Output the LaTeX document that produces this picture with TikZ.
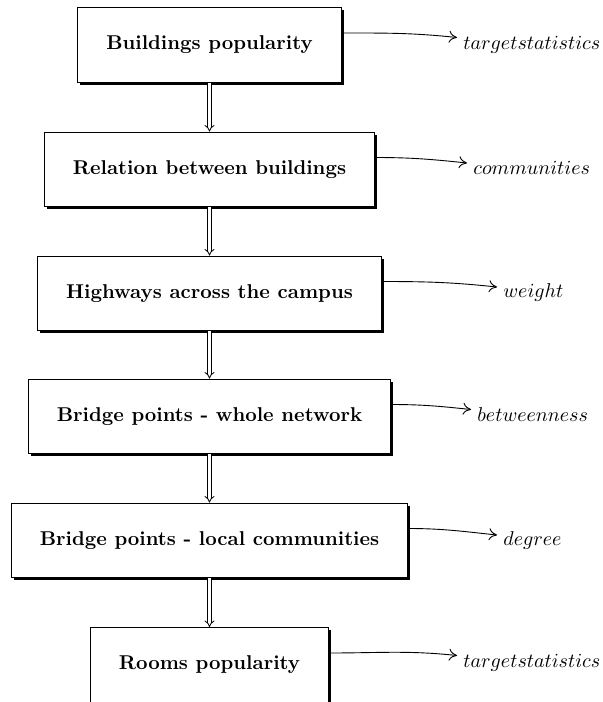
\documentclass[tikz,border=0pt]{standalone}
\usetikzlibrary{shadows,arrows.meta}
\begin{document}
\begin{tikzpicture}[x=0.5pt,y=-0.5pt,
  box/.style={draw, line width=0.5pt, fill=white, inner sep=0.5cm, font=\bfseries,
    general shadow={fill=black, shadow xshift=1.2pt, shadow yshift=-1.2pt}},
  down/.style={double, double distance=1.3pt, line width=0.4pt, -{Implies}},
  side/.style={-{To[length=4pt,width=6pt]}, line width=0.45pt},
  lab/.style={inner sep=0pt, anchor=base west}]
\clip (0,0) rectangle (602,702);
\useasboundingbox (0,0) rectangle (602,702);
% boxes
\node[box] (b1) at (209.5,45)    {Buildings popularity};
\node[box] (b2) at (209.5,169.5) {Relation between buildings};
\node[box] (b3) at (209.5,293.5) {Highways across the campus};
\node[box] (b4) at (209.5,416.5) {Bridge points - whole network};
\node[box] (b5) at (209.5,540.5) {Bridge points - local communities};
\node[box] (b6) at (209.5,665)   {Rooms popularity};
% labels
\node[lab] (l1) at (463,49.5)  {$targetstatistics$};
\node[lab] (l2) at (473,174.5) {$communities$};
\node[lab] (l3) at (503,297.5) {$weight$};
\node[lab] (l4) at (477,421.5) {$betweenness$};
\node[lab] (l5) at (503,545.5) {$degree$};
\node[lab] (l6) at (463,667.5) {$targetstatistics$};
% vertical arrows
\draw[down] (b1.south) -- (b2.north);
\draw[down] (b2.south) -- (b3.north);
\draw[down] (b3.south) -- (b4.north);
\draw[down] (b4.south) -- (b5.north);
\draw[down] (b5.south) -- (b6.north);
% side arrows
\draw[side] ([yshift=6pt]b1.east) to[out=0,in=174] ([xshift=-3pt,yshift=6pt]l1.base west);
\draw[side] ([yshift=6pt]b2.east) to[out=0,in=174] ([xshift=-3pt,yshift=5.75pt]l2.base west);
\draw[side] ([yshift=6pt]b3.east) to[out=0,in=174] ([xshift=-3pt,yshift=5.25pt]l3.base west);
\draw[side] ([yshift=6pt]b4.east) to[out=0,in=174] ([xshift=-3pt,yshift=6pt]l4.base west);
\draw[side] ([yshift=6pt]b5.east) to[out=0,in=174] ([xshift=-3pt,yshift=5.25pt]l5.base west);
\draw[side] ([yshift=6pt]b6.east) to[out=0,in=174] ([xshift=-3pt,yshift=6pt]l6.base west);
\end{tikzpicture}
\end{document}
